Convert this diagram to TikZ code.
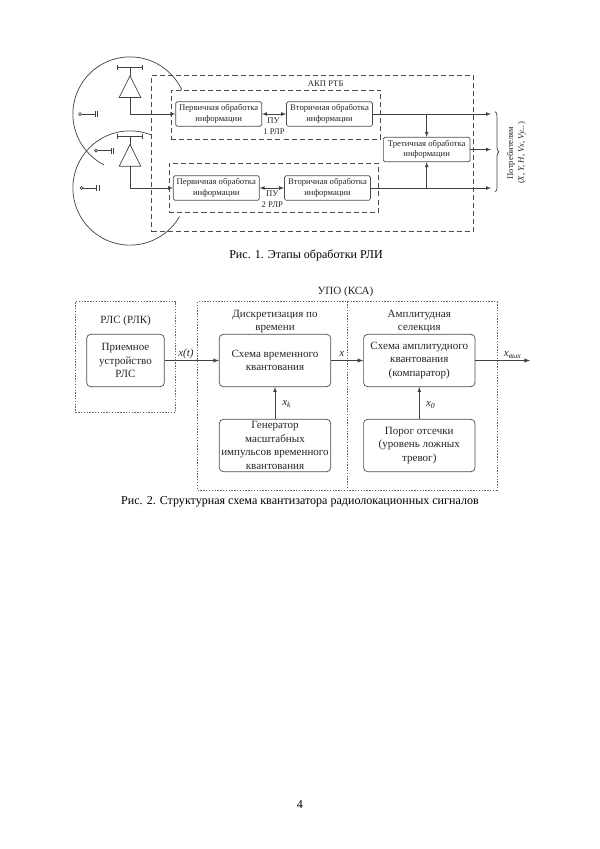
\documentclass[tikz,border=0pt]{standalone}
\usepackage{fontspec}
\setmainfont{Liberation Serif}
\usetikzlibrary{calc,decorations.pathreplacing}

\begin{document}
\begin{tikzpicture}[x=0.035cm,y=-0.035cm,line width=0.7pt,
	ibox/.style={rectangle, draw=black!70, rounded corners=1.5pt, fill=white, inner sep=0, minimum width=86*0.035cm, minimum height=24.5*0.035cm, align=center, text=black!85, font=\fontsize{8.6}{10.5}\selectfont},
	sbox/.style={rectangle, draw=black!70, rounded corners=4pt, fill=white, inner sep=0, minimum width=111.4*0.035cm, minimum height=52.4*0.035cm, align=center, text=black!85, font=\fontsize{11}{13.5}\selectfont},
	dreg/.style={rectangle, draw=black!70, dash pattern=on 5pt off 3pt, inner sep=0},
	sreg/.style={draw=black!60, dash pattern=on 1.4pt off 1.4pt, inner sep=0},
	lab/.style={inner sep=0, align=center, text=black!85, font=\fontsize{8.6}{10.5}\selectfont},
	slab/.style={inner sep=0, align=center, text=black!85, font=\fontsize{11}{13.5}\selectfont},
	capt/.style={inner sep=0, font=\fontsize{12}{14}\selectfont},
	wire/.style={draw=black!75, -latex},
	twire/.style={draw=black!75, latex-latex}]

	\useasboundingbox (0,0) rectangle (600,849);

	%regions of fig. 1
	\node[dreg,minimum width=322*0.035cm,minimum height=156.7*0.035cm] at (312.7,153.4) (akp) {};
	\node[dreg,minimum width=209.3*0.035cm,minimum height=49*0.035cm] at (275.7,114.5) (rlr1) {};
	\node[dreg,minimum width=208.7*0.035cm,minimum height=49.4*0.035cm] at (273.7,188) (rlr2) {};
	\node[lab] at (325.7,83.3) (akplab) {АКП РТБ};

	%antenna zones
	\coordinate (cu) at (130,114);
	\coordinate (cl) at (130,188);
	\draw[black!75] ([shift={(cu)}]25:2cm) arc[start angle=25,end angle=243,radius=2cm];
	\draw[black!75] ([shift={(cl)}]68:2cm) arc[start angle=68,end angle=330,radius=2cm];

	%processing blocks
	\node[ibox] at (218.7,114) (p1) {Первичная обработка\\информации};
	\node[ibox] at (329.5,114) (s1) {Вторичная обработка\\информации};
	\node[ibox] at (216.3,188) (p2) {Первичная обработка\\информации};
	\node[ibox] at (327.5,188) (s2) {Вторичная обработка\\информации};
	\node[ibox,minimum width=86.7*0.035cm] at (426.7,149.5) (t) {Третичная обработка\\информации};
	\node[lab] at (273.5,120.7) (pu1) {ПУ};
	\node[lab] at (274,131.7) (r1) {1 РЛР};
	\node[lab] at (272.3,194) (pu2) {ПУ};
	\node[lab] at (272.3,204.3) (r2) {2 РЛР};

	%antennas
	\foreach \i/\y in {1/67.3,2/136} {
		\draw[black!75] (117.3,\y) -- (142.7,\y);
		\draw[black!75] (117.3,\y-2.5) -- (117.3,\y+2.5);
		\draw[black!75] (142.7,\y-2.5) -- (142.7,\y+2.5);
		\draw[black!75] (130,\y) -- (130,\y+8.5) coordinate (apex\i);
		\draw[black!75] (apex\i) -- ++(-10.8,21.7) -- ++(21.6,0) -- cycle;
		\coordinate (ant\i) at ($(apex\i)+(0,21.7)$);
	}
	\draw[wire] (ant1) |- (p1.west);
	\draw[wire] (ant2) |- (p2.west);

	%small receivers
	\foreach \i/\x/\y in {1/80/114,2/96/150.7,3/81.7/188} {
		\draw[black!75] (\x,\y) circle (1.5pt);
		\draw[black!75] (\x+1.5,\y) -- (\x+15,\y);
		\draw[black!75] (\x+15,\y-3) -- (\x+15,\y+3);
		\draw[black!75] (\x+17.7,\y-3) -- (\x+17.7,\y+3);
	}

	\draw[twire] (p1.east) -- (s1.west);
	\draw[twire] (p2.east) -- (s2.west);

	%outputs
	\coordinate (o1) at (491,114);
	\coordinate (o2) at (491,149.5);
	\coordinate (o3) at (491,188);
	\draw[wire] (s1.east) -- (o1);
	\draw[wire] (t.east) -- (o2);
	\draw[wire] (s2.east) -- (o3);
	\draw[wire] (t.north |- s1.east) -- (t.north);
	\draw[wire] (t.south |- s2.east) -- (t.south);

	\draw[black!75,decorate,decoration={brace,amplitude=4pt}] (495,111.7) -- (495,192);
	\node[lab,rotate=90] at (511,153) (cons) {Потребителям};
	\node[lab,rotate=90] at (521.7,153) (consp) {(\textit{X, Y, H, Vx, Vy...})};

	\node[capt] at (306,255) (cap1) {Рис. 1. Этапы обработки РЛИ};

	%regions of fig. 2
	\node[sreg,rectangle,minimum width=100.4*0.035cm,minimum height=110.6*0.035cm] at (125.5,357) (rls) {};
	\node[sreg,rectangle,minimum width=299.3*0.035cm,minimum height=188.3*0.035cm] at (347.3,395.8) (upo) {};
	\coordinate (mid) at (347,395.8);
	\draw[sreg] (mid |- upo.north) -- (mid |- upo.south);
	\node[slab] at (345.5,292) (upolab) {УПО (КСА)};
	\node[slab] at (125.7,320.7) (rlslab) {РЛС (РЛК)};
	\node[slab] at (275,321.5) (dlab) {Дискретизация по\\времени};
	\node[slab] at (419.3,321.5) (alab) {Амплитудная\\селекция};

	%blocks
	\node[sbox,minimum width=77.6*0.035cm] at (125.5,360.5) (rx) {Приемное\\устройство\\РЛС};
	\node[sbox] at (275,360.5) (tq) {Схема временного\\квантования};
	\node[sbox] at (275,445.5) (gen) {Генератор\\масштабных\\импульсов временного\\квантования};
	\node[sbox] at (419.3,360.5) (aq) {Схема амплитудного\\квантования\\(компаратор)};
	\node[sbox] at (419.3,445.5) (thr) {Порог отсечки\\(уровень ложных\\тревог)};

	\coordinate (out) at (530,360.5);
	\draw[wire,line width=0.9pt] (rx.east) -- (tq.west);
	\draw[wire,line width=0.9pt] (tq.east) -- (aq.west);
	\draw[wire,line width=0.9pt] (aq.east) -- (out);
	\draw[wire] (gen.north) -- (tq.south);
	\draw[wire] (thr.north) -- (aq.south);

	\node[slab] at (186,354) (xt) {\textit{x(t)}};
	\node[slab] at (341.7,354) (xx) {\textit{x}};
	\node[slab] at (286.7,404) (xk) {\textit{x\textsubscript{k}}};
	\node[slab] at (430.7,405) (x0) {\textit{x\textsubscript{0}}};
	\node[slab] at (512.7,355) (xo) {\textit{x\textsubscript{вых}}};

	\node[capt] at (300,502) (cap2) {Рис. 2. Структурная схема квантизатора радиолокационных сигналов};
	\node[capt] at (300,805) (pnum) {4};
\end{tikzpicture}
\end{document}
